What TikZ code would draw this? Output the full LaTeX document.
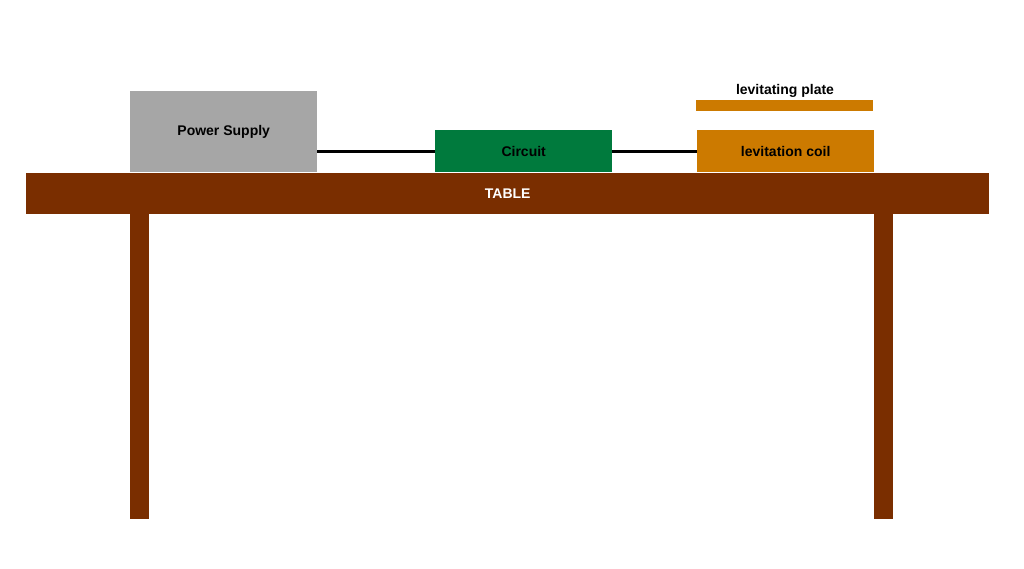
\documentclass[tikz,border=0pt]{standalone}
\usepackage{fontspec}
\setmainfont{Liberation Sans}
\definecolor{psgray}{HTML}{A6A6A6}
\definecolor{tablebrown}{HTML}{7A2E00}
\definecolor{circgreen}{HTML}{007A3D}
\definecolor{coilorange}{HTML}{CC7A00}
\begin{document}
\begin{tikzpicture}[x=1pt,y=-1pt,
  blockbox/.style={draw=none,inner sep=0pt,anchor=north west,font=\bfseries\fontsize{14}{16}\selectfont},
  wire/.style={line width=3pt,black}]
\useasboundingbox (0,0) rectangle (1024,568);
\fill[white] (0,0) rectangle (1024,568);
% table
\node[blockbox,fill=tablebrown,minimum width=963pt,minimum height=41pt,text=white] (table) at (26,173) {TABLE};
\node[blockbox,fill=tablebrown,minimum width=19pt,minimum height=305pt] (legL) at (130,214) {};
\node[blockbox,fill=tablebrown,minimum width=19pt,minimum height=305pt] (legR) at (874,214) {};
% devices
\node[blockbox,fill=psgray,minimum width=187pt,minimum height=81pt] (ps) at (130,91) {Power Supply};
\node[blockbox,fill=circgreen,minimum width=177pt,minimum height=42pt] (circ) at (435,130) {Circuit};
\node[blockbox,fill=coilorange,minimum width=177pt,minimum height=42pt] (coil) at (697,130) {levitation coil};
\node[blockbox,fill=coilorange,minimum width=177pt,minimum height=11pt] (plate) at (696,100) {};
\node[font=\bfseries\fontsize{14}{16}\selectfont,inner sep=0pt] (platelbl) at (785,91) {levitating plate};
% wires
\draw[wire] (ps.east |- circ.west) -- (circ.west);
\draw[wire] (circ.east) -- (coil.west);
\end{tikzpicture}
\end{document}
